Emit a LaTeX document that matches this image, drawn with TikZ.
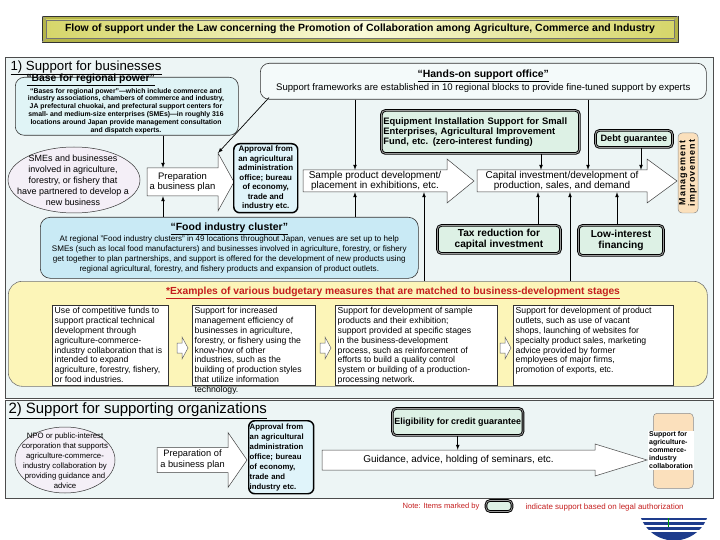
\documentclass[tikz,border=0pt]{standalone}
\usepackage{fontspec}
\setmainfont{Liberation Sans}
\usetikzlibrary{positioning}
\definecolor{panelbg}{HTML}{EDF5F5}
\definecolor{handsbg}{HTML}{F4FAFA}
\definecolor{basebg}{HTML}{E0F4F6}
\definecolor{clusterbg}{HTML}{C9EAF5}
\definecolor{legalbg}{HTML}{DDF1E5}
\definecolor{approvalbg}{HTML}{E0F4FA}
\definecolor{peach}{HTML}{FBE0BC}
\definecolor{examplebg}{HTML}{FCF5B8}
\definecolor{notered}{HTML}{C41E1E}
\definecolor{smebg}{HTML}{F4EFF7}
\definecolor{ttedge}{HTML}{D6D66A}
\definecolor{ttmid}{HTML}{FAFAD8}
\definecolor{ttframe}{HTML}{B4B448}
\definecolor{logoblue}{HTML}{1E3C8C}
\newcommand\fsz[2]{\fontsize{#1}{#2}\selectfont}
\newcommand\blockarrow[6]{\draw[blockarrow] (#1,{#4-#5}) -- (#2,{#4-#5}) -- (#2,{#4-#6}) -- (#3,#4)
  -- (#2,{#4+#6}) -- (#2,{#4+#5}) -- (#1,{#4+#5}) -- cycle;}
\begin{document}
\begin{tikzpicture}[x=1bp,y=-1bp,
  panel/.style={draw=black!70,line width=0.8pt,fill=panelbg},
  bubble/.style={draw=black!80,line width=0.6pt,rounded corners=9pt,inner sep=0pt},
  legal/.style={draw=black,double=black!40,line width=0.9pt,double distance=0.8pt,rounded corners=4pt,fill=legalbg,inner sep=2pt},
  approval/.style={draw=black,line width=1.5pt,rounded corners=6pt,fill=approvalbg,inner sep=1pt},
  blockarrow/.style={draw=black!75,fill=white,line width=0.5pt},
  arrtext/.style={inner sep=0pt,align=center},
  link/.style={-latex,line width=0.7pt},
  oval/.style={draw=black!80,fill=smebg,line width=0.5pt},
  exbox/.style={draw=black!80,fill=white,line width=0.6pt,inner sep=0pt,anchor=north west,minimum height=80bp},
  extext/.style={anchor=north west,align=left,inner sep=2.5pt,font=\fsz{8.7}{9.8}},
  hollow/.style={draw=black!60,fill=white,line width=0.5pt},
  peachbox/.style={draw=black!45,fill=peach,rounded corners=4pt,line width=0.5pt,inner sep=0pt}]
\useasboundingbox (0,0) rectangle (720,540);
\fill[ttframe] (42,16) rectangle (678,42);
\shade[left color=ttedge,right color=ttedge,middle color=ttmid] (46,20) rectangle (674,38);
\draw[black!55] (46,20) rectangle (674,38);
\draw[black!80] (42,16) rectangle (678,42);
\foreach \a/\b in {42/46,678/674} {\draw[black!40] (\a,16) -- (\b,20); \draw[black!40] (\a,42) -- (\b,38);}
\node[font=\fsz{10.5}{12}\bfseries] (title) at (360,29) {Flow of support under the Law concerning the Promotion of Collaboration among Agriculture, Commerce and Industry};
\draw[panel] (5,57) rectangle (713,398);
\draw[panel] (5,400) rectangle (713,498);
\node[anchor=west,font=\fsz{13.3}{15}] (sec1) at (7,68) {\underline{1) Support for businesses}};
\node[anchor=west,font=\fsz{15}{17}] (sec2) at (5,411) {\underline{2) Support for supporting organizations}};
\node[bubble,fill=basebg,anchor=north west,minimum width=223bp,minimum height=58bp] (base) at (15,77) {};
\node[anchor=west,font=\fsz{10.4}{12}\bfseries] (basetitle) at (23,80) {\underline{“Base for regional power”}};
\node[align=center,font=\fsz{6.9}{7.9}\bfseries] (basetext) at (126,111) {“Bases for regional power”—which include commerce and\\industry associations, chambers of commerce and industry,\\JA prefectural chuokai, and prefectural support centers for\\small- and medium-size enterprises (SMEs)—in roughly 316\\locations around Japan provide management consultation\\and dispatch experts.};
\node[bubble,fill=handsbg,anchor=north west,minimum width=446bp,minimum height=36bp,align=center,font=\fsz{9.6}{13}] (hands) at (260,63) {{\fsz{10.5}{13}\bfseries\underline{“Hands-on support office”}}\\Support frameworks are established in 10 regional blocks to provide fine-tuned support by experts};
\draw[oval] (74,180) ellipse [x radius=66bp,y radius=33bp];
\node[align=center,font=\fsz{9}{11}] (sme) at (73,180) {SMEs and businesses\\involved in agriculture,\\forestry, or fishery that\\have partnered to develop a\\new business};
\blockarrow{147}{218}{234}{182}{14}{29}
\node[arrtext,minimum width=71bp,minimum height=28bp,font=\fsz{9.5}{10.5}] (prep) at (182.5,182) {Preparation\\a business plan};
\node[approval,anchor=north west,minimum width=64bp,minimum height=69bp,align=center,font=\fsz{8}{9.6}\bfseries] (appr) at (233,143) {Approval from\\an agricultural\\administration\\office; bureau\\of economy,\\trade and\\industry etc.};
\blockarrow{303}{447}{474}{181}{11}{22}
\node[arrtext,minimum width=144bp,minimum height=22bp,font=\fsz{10}{10.5}] (sample) at (375,181) {Sample product development/\\placement in exhibitions, etc.};
\blockarrow{477}{647}{677}{181}{11}{22}
\node[arrtext,minimum width=170bp,minimum height=22bp,font=\fsz{10}{10.5}] (capital) at (562,181) {Capital investment/development of\\production, sales, and demand};
\node[legal,anchor=north west,text width=194bp,minimum height=43bp,align=left,font=\fsz{9.4}{10}\bfseries] (equip) at (381,110) {Equipment Installation Support for Small\\Enterprises, Agricultural Improvement\\Fund, etc. (zero-interest funding)};
\node[legal,anchor=north west,minimum width=77bp,minimum height=17bp,inner sep=1pt,font=\fsz{9.2}{10}\bfseries] (debt) at (595,130) {Debt guarantee};
\node[peachbox,minimum width=80bp,minimum height=20bp,rotate=90,align=center,font=\fsz{9}{9.5}\bfseries\addfontfeature{LetterSpace=12}] (mgmt) at (688,173) {Management\\improvement};
\node[bubble,fill=clusterbg,rounded corners=10pt,anchor=north west,minimum width=378bp,minimum height=61bp,align=center,font=\fsz{8.1}{9.9}] (cluster) at (40,217) {{\fsz{10.5}{11}\bfseries\underline{“Food industry cluster”}}\\At regional "Food industry clusters" in 49 locations throughout Japan, venues are set up to help\\SMEs (such as local food manufacturers) and businesses involved in agriculture, forestry, or fishery\\get together to plan partnerships, and support is offered for the development of new products using\\regional agricultural, forestry, and fishery products and expansion of product outlets.};
\node[legal,anchor=north west,minimum width=123bp,minimum height=28bp,align=center,font=\fsz{10.2}{11}\bfseries] (tax) at (437,225) {Tax reduction for\\capital investment};
\node[legal,anchor=north west,minimum width=85bp,minimum height=30bp,align=center,font=\fsz{10.2}{11}\bfseries] (lowint) at (578,225) {Low-interest\\financing};
\node[draw=black!55,fill=examplebg,rounded corners=14pt,line width=0.6pt,anchor=north west,minimum width=699bp,minimum height=105bp] (examples) at (8,281) {};
\node[text=notered,font=\fsz{10.3}{11}\bfseries] (extitle) at (393,293) {\underline{*Examples of various budgetary measures that are matched to business-development stages}};
\node[exbox,minimum width=116bp] (ex1) at (52,305) {};
\node[extext] (ex1t) at (ex1.north west) {Use of competitive funds to\\support practical technical\\development through\\agriculture-commerce-\\industry collaboration that is\\intended to expand\\agriculture, forestry, fishery,\\or food industries.};
\node[exbox,minimum width=123bp] (ex2) at (192,305) {};
\node[extext] (ex2t) at (ex2.north west) {Support for increased\\management efficiency of\\businesses in agriculture,\\forestry, or fishery using the\\know-how of other\\industries, such as the\\building of production styles\\that utilize information\\technology.};
\node[exbox,minimum width=162bp] (ex3) at (335,305) {};
\node[extext] (ex3t) at (ex3.north west) {Support for development of sample\\products and their exhibition;\\support provided at specific stages\\in the business-development\\process, such as reinforcement of\\efforts to build a quality control\\system or building of a production-\\processing network.};
\node[exbox,minimum width=160bp] (ex4) at (513,305) {};
\node[extext] (ex4t) at (ex4.north west) {Support for development of product\\outlets, such as use of vacant\\shops, launching of websites for\\specialty product sales, marketing\\advice provided by former\\employees of major firms,\\promotion of exports, etc.};
\foreach \x in {177,320,500} {\draw[hollow] (\x,343) -- ++(5,0) -- ++(0,-6) -- ++(6,11) -- ++(-6,11) -- ++(0,-6) -- ++(-5,0) -- cycle;}
\draw[link] (163,0 |- base.south) -- (163,0 |- prep.north);
\draw[link] (163,0 |- cluster.north) -- (163,0 |- prep.south);
\coordinate (prephead) at (218,153);
\draw[link] ([xshift=9bp,yshift=2bp]hands.south west) -- (prephead);
\draw[link] (355,0 |- hands.south) -- (355,0 |- sample.north);
\draw[link] (355,0 |- cluster.north) -- (355,0 |- sample.south);
\draw[link] (424,0 |- examples.north) -- (424,0 |- sample.south);
\draw[link] (541,0 |- equip.south) -- (541,0 |- capital.north);
\draw[link] (588,0 |- hands.south) -- (588,0 |- capital.north);
\draw[link] (641,0 |- debt.south) -- (641,0 |- capital.north);
\draw[link] (538,0 |- tax.north) -- (538,0 |- capital.south);
\draw[link] (570,0 |- examples.north) -- (570,0 |- capital.south);
\draw[link] (617,0 |- lowint.north) -- (617,0 |- capital.south);
\draw[oval] (65,460) ellipse [x radius=50bp,y radius=33bp];
\node[align=center,font=\fsz{7.8}{10}] (npo) at (65,461) {NPO or public-interest\\corporation that supports\\agriculture-commerce-\\industry collaboration by\\providing guidance and\\advice};
\blockarrow{157}{228}{247}{460}{12.5}{27.5}
\node[arrtext,minimum width=71bp,minimum height=25bp,font=\fsz{9.3}{11}] (prepb) at (192.5,460) {Preparation of\\a business plan};
\node[approval,anchor=north west,text width=63bp,minimum height=73bp,align=left,font=\fsz{7.8}{10}\bfseries] (appr2) at (248,420) {Approval from\\an agricultural\\administration\\office; bureau\\of economy,\\trade and\\industry etc.};
\blockarrow{322}{595}{647}{460}{10}{16}
\node[arrtext,minimum width=273bp,minimum height=20bp,font=\fsz{10}{11}] (guide) at (458.5,460) {Guidance, advice, holding of seminars, etc.};
\node[legal,anchor=north west,minimum width=125bp,minimum height=27bp,font=\fsz{9}{11}\bfseries] (elig) at (392,408) {Eligibility for credit guarantee};
\draw[link] (elig.south) -- (elig.south |- guide.north);
\node[peachbox,anchor=north west,minimum width=40bp,minimum height=75bp] (agri) at (653,413) {};
\node[fill=white,anchor=west,align=left,inner sep=1pt,font=\fsz{7}{8}\bfseries] (agritext) at (648,450) {Support for\\agriculture-\\commerce-\\industry\\collaboration};
\node[anchor=east,text=notered,font=\fsz{7.6}{9}] (note) at (483,507) {Note: Items marked by};
\node[legal,minimum width=26bp,minimum height=11bp,inner sep=0pt] (noteicon) at (499,506) {};
\node[anchor=west,text=notered,font=\fsz{8}{9}] (notetext) at (522,507) {indicate support based on legal authorization};
\begin{scope}
\clip (636,518) rectangle (715,540);
\fill[logoblue] (674,505) circle [radius=35.5bp];
\foreach \y in {521,526,531} {\draw[white,line width=1.2pt] (636,\y) -- (715,\y);}
\draw[green!60!black,line width=0.8pt] (668,518) -- (668,527);
\end{scope}
\end{tikzpicture}
\end{document}
